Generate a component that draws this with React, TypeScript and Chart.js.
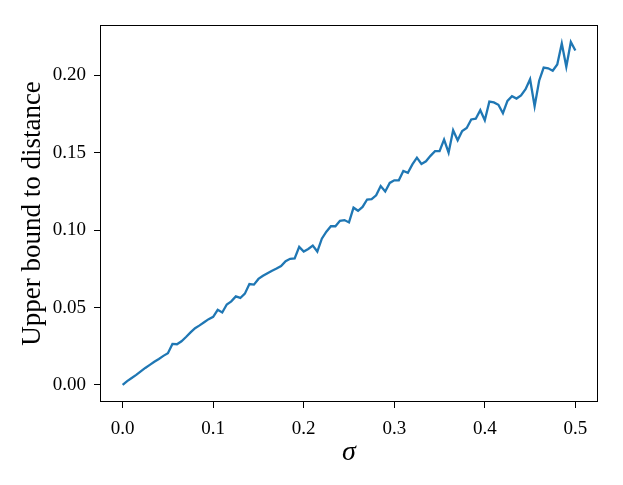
import React, { useEffect, useRef } from "react";
import { Chart, registerables } from "chart.js";

Chart.register(...registerables);

const sigma: number[] = [
  0.0, 0.005, 0.01, 0.015, 0.02, 0.025, 0.03, 0.035, 0.04, 0.045,
  0.05, 0.055, 0.06, 0.065, 0.07, 0.075, 0.08, 0.085, 0.09, 0.095,
  0.1, 0.105, 0.11, 0.115, 0.12, 0.125, 0.13, 0.135, 0.14, 0.145,
  0.15, 0.155, 0.16, 0.165, 0.17, 0.175, 0.18, 0.185, 0.19, 0.195,
  0.2, 0.205, 0.21, 0.215, 0.22, 0.225, 0.23, 0.235, 0.24, 0.245,
  0.25, 0.255, 0.26, 0.265, 0.27, 0.275, 0.28, 0.285, 0.29, 0.295,
  0.3, 0.305, 0.31, 0.315, 0.32, 0.325, 0.33, 0.335, 0.34, 0.345,
  0.35, 0.355, 0.36, 0.365, 0.37, 0.375, 0.38, 0.385, 0.39, 0.395,
  0.4, 0.405, 0.41, 0.415, 0.42, 0.425, 0.43, 0.435, 0.44, 0.445,
  0.45, 0.455, 0.46, 0.465, 0.47, 0.475, 0.48, 0.485, 0.49, 0.495,
  0.5,
];

const upperBound: number[] = [
  0.0, 0.0025, 0.0045, 0.0065, 0.0088, 0.011, 0.013, 0.015, 0.0168, 0.0188,
  0.0205, 0.0265, 0.0263, 0.0282, 0.031, 0.034, 0.0367, 0.0385, 0.0405, 0.0425,
  0.044, 0.0485, 0.0468, 0.052, 0.054, 0.0572, 0.0562, 0.059, 0.0652, 0.0648,
  0.0685, 0.0705, 0.0722, 0.0738, 0.0752, 0.0768, 0.08, 0.0815, 0.0818, 0.0892,
  0.0862, 0.0878, 0.09, 0.0862, 0.0945, 0.099, 0.1025, 0.1025, 0.106, 0.1065,
  0.105, 0.1145, 0.1125, 0.115, 0.1198, 0.12, 0.1225, 0.1285, 0.125, 0.1305,
  0.1322, 0.1322, 0.1382, 0.137, 0.1425, 0.1468, 0.1428, 0.1445, 0.148, 0.151,
  0.151, 0.1585, 0.15, 0.1645, 0.158, 0.164, 0.166, 0.1715, 0.172, 0.1775,
  0.171, 0.183, 0.1825, 0.181, 0.1755, 0.1835, 0.1865, 0.185, 0.187, 0.191,
  0.1975, 0.18, 0.1965, 0.205, 0.2045, 0.203, 0.207, 0.2205, 0.2055, 0.2215,
  0.216,
];

const xTicks: number[] = [0.0, 0.1, 0.2, 0.3, 0.4, 0.5];
const yTicks: number[] = [0.0, 0.05, 0.1, 0.15, 0.2];

const xLabel = "σ";
const yLabel = "Upper bound to distance";

const FONT = "'Liberation Serif', 'DejaVu Serif', serif";

const framePlugin = {
  id: "frame",
  afterDraw(chart: any) {
    const { ctx, chartArea } = chart;
    ctx.save();
    ctx.strokeStyle = "#000";
    ctx.lineWidth = 1;
    ctx.strokeRect(
      Math.round(chartArea.left) + 0.5,
      Math.round(chartArea.top) + 0.5,
      Math.round(chartArea.right - chartArea.left) - 1,
      Math.round(chartArea.bottom - chartArea.top) - 1
    );
    ctx.restore();
  },
};

export default function App() {
  const ref = useRef<HTMLCanvasElement | null>(null);

  useEffect(() => {
    document.body.style.margin = "0";
    if (!ref.current) return;
    const points = sigma.map((s, i) => ({ x: s, y: upperBound[i] }));
    const chart = new Chart(ref.current, {
      type: "line",
      data: {
        datasets: [
          {
            data: points,
            borderColor: "#1f77b4",
            borderWidth: 2.3,
            pointRadius: 0,
            tension: 0,
            fill: false,
          },
        ],
      },
      options: {
        animation: false,
        responsive: false,
        devicePixelRatio: 1,
        layout: { padding: { top: 25, right: 25, left: 0, bottom: 0 } },
        plugins: {
          legend: { display: false },
          tooltip: { enabled: false },
        },
        scales: {
          x: {
            type: "linear",
            min: -0.025,
            max: 0.525,
            afterFit: (s: any) => {
              s.height = 83;
            },
            afterBuildTicks: (s: any) => {
              s.ticks = xTicks.map((v) => ({ value: v }));
            },
            ticks: {
              includeBounds: false,
              color: "#000",
              padding: 10,
              maxRotation: 0,
              font: { family: FONT, size: 19 },
              callback: (v: any) => Number(v).toFixed(1),
            },
            grid: {
              display: true,
              drawOnChartArea: false,
              drawTicks: true,
              tickLength: 6,
              tickColor: "#000",
              color: "#000",
            },
            border: { display: false },
            title: {
              display: true,
              text: xLabel,
              color: "#000",
              font: { family: FONT, size: 28, style: "italic" },
              padding: { top: 0, bottom: 16 },
            },
          },
          y: {
            type: "linear",
            min: -0.011,
            max: 0.2325,
            afterFit: (s: any) => {
              s.width = 100;
            },
            afterBuildTicks: (s: any) => {
              s.ticks = yTicks.map((v) => ({ value: v }));
            },
            ticks: {
              includeBounds: false,
              color: "#000",
              padding: 8,
              font: { family: FONT, size: 19 },
              callback: (v: any) => Number(v).toFixed(2),
            },
            grid: {
              display: true,
              drawOnChartArea: false,
              drawTicks: true,
              tickLength: 6,
              tickColor: "#000",
              color: "#000",
            },
            border: { display: false },
            title: {
              display: true,
              text: yLabel,
              color: "#000",
              font: { family: FONT, size: 27 },
              padding: { top: 17, bottom: 0 },
            },
          },
        },
      },
      plugins: [framePlugin],
    });
    return () => chart.destroy();
  }, []);

  return (
    <div style={{ position: "fixed", left: 0, top: 0, width: 623, height: 485, background: "#fff" }}>
      <canvas ref={ref} width={623} height={485} />
    </div>
  );
}
